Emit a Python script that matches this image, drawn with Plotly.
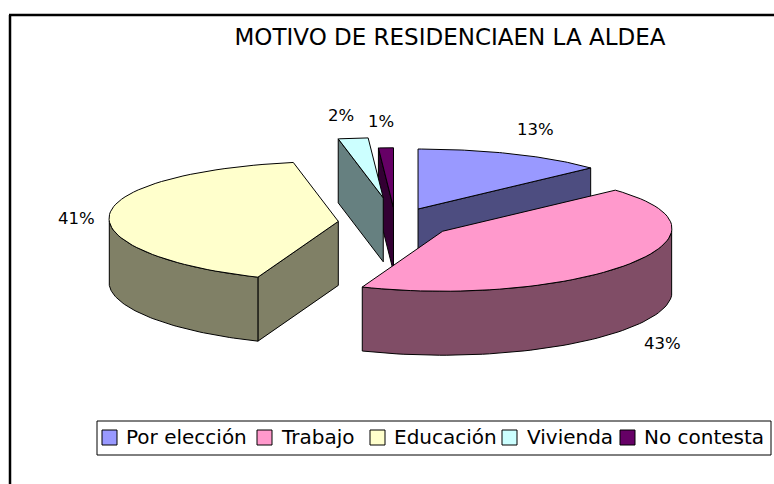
import numpy as np
import plotly.graph_objects as go

# ---- data ----
categories = ["Por elección", "Trabajo", "Educación", "Vivienda", "No contesta"]
values = [13, 43, 41, 2, 1]
title_text = "MOTIVO DE RESIDENCIAEN LA ALDEA"

# ---- style ----
top_colors = ["#9999FF", "#FF99CC", "#FFFFCC", "#CCFFFF", "#660066"]
side_colors = ["#4D4D80", "#804D66", "#808066", "#668080", "#330033"]
explode = [0.25, 0.25, 0.25, 0.42, 0.25]
CX, CY, RX, RY, DEPTH, WARP = 395.3, 222.8, 229, 60, 64, 0.05
label_xy = [(535, 129), (662, 343), (76, 218), (341, 115), (381, 121)]
legend_swatch_x = [102, 257, 370, 502, 620]
legend_text_x = [124, 279, 392, 525, 642]
FONT = "Comic Sans MS, DejaVu Sans, sans-serif"
W, H = 774, 484


def proj(deg, radius, ox, oy, warp=0.0):
    t = np.radians(deg)
    return ox + radius * RX * np.sin(t) * (1 + warp * np.cos(t)), oy - radius * RY * np.cos(t)


edges = np.cumsum([0] + values) / sum(values) * 360
fig = go.Figure()


def poly(xs, ys, color, name=None):
    fig.add_trace(go.Scatter(x=list(xs) + [xs[0]], y=list(ys) + [ys[0]], mode="lines",
                             fill="toself", fillcolor=color,
                             line=dict(color="#000000", width=1),
                             hoverinfo="skip", showlegend=False, name=name))


def wall(ax, ay, bx, by, color):
    poly([ax, bx, bx, ax], [ay, by, by + DEPTH, ay + DEPTH], color)


for i in [0, 4, 3, 2, 1]:
    a, b = edges[i], edges[i + 1]
    mid = (a + b) / 2
    ox, oy = proj(mid, explode[i], CX, CY)
    ax, ay = proj(a, 1, ox, oy, WARP)
    bx, by = proj(b, 1, ox, oy, WARP)
    if np.sin(np.radians(a)) < 0:
        wall(ox, oy, ax, ay, side_colors[i])
    if np.sin(np.radians(b)) > 0:
        wall(ox, oy, bx, by, side_colors[i])
    lo, hi = max(a, 90), min(b, 270)
    if hi > lo:
        th = np.linspace(lo, hi, 60)
        px, py = proj(th, 1, ox, oy, WARP)
        poly(np.r_[px, px[::-1]], np.r_[py, py[::-1] + DEPTH], side_colors[i])
    th = np.linspace(a, b, 60)
    px, py = proj(th, 1, ox, oy, WARP)
    poly(np.r_[ox, px], np.r_[oy, py], top_colors[i], categories[i])

annotations = [dict(x=x, y=y, text=f"{v}%", showarrow=False, xref="x", yref="y",
                    font=dict(family=FONT, size=16.5, color="#000000"))
               for (x, y), v in zip(label_xy, values)]

shapes = [
    dict(type="line", xref="x", yref="y", x0=10, x1=10, y0=15, y1=H,
         line=dict(color="#000000", width=2.5)),
    dict(type="line", xref="x", yref="y", x0=9, x1=W, y0=15, y1=15,
         line=dict(color="#000000", width=2.5)),
    dict(type="rect", xref="x", yref="y", x0=97, x1=771, y0=421, y1=455,
         line=dict(color="#000000", width=1), fillcolor="#FFFFFF"),
]
for name, c, sx, tx in zip(categories, top_colors, legend_swatch_x, legend_text_x):
    shapes.append(dict(type="rect", xref="x", yref="y", x0=sx, x1=sx + 15, y0=430, y1=445,
                       line=dict(color="#000000", width=1), fillcolor=c))
    annotations.append(dict(x=tx, y=437, text=name, showarrow=False, xref="x", yref="y",
                            xanchor="left", yanchor="middle",
                            font=dict(family=FONT, size=20, color="#000000")))

fig.update_layout(
    width=W, height=H, margin=dict(l=0, r=0, t=0, b=0),
    paper_bgcolor="#FFFFFF", plot_bgcolor="#FFFFFF",
    title=dict(text=title_text, x=450 / W, y=1 - 37 / H, xanchor="center", yanchor="middle",
               font=dict(family=FONT, size=23, color="#000000")),
    xaxis=dict(range=[0, W], visible=False, fixedrange=True),
    yaxis=dict(range=[H, 0], visible=False, fixedrange=True),
    annotations=annotations,
    showlegend=False,
    shapes=shapes,
)
fig.write_html("out.html", config={"displayModeBar": False},
               post_script="document.body.style.margin='0';document.body.style.overflow='hidden';")
